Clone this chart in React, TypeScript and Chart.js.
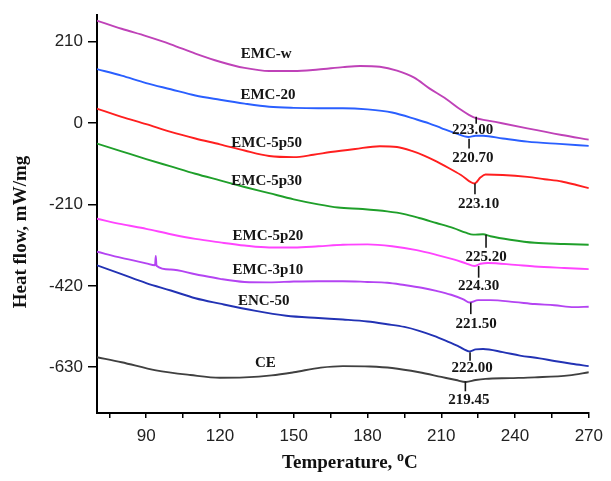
import React, { useEffect, useRef } from "react";
import { Chart, registerables } from "chart.js";

Chart.register(...registerables);

// ---- Data (temperature in °C, heat flow in mW/mg) ----
const seriesNames = ["EMC-w", "EMC-20", "EMC-5p50", "EMC-5p30", "EMC-5p20", "EMC-3p10", "ENC-50", "CE"];

const tempW = [70, 80, 90, 100, 110, 120, 130, 140, 150, 160, 170, 177, 185, 192, 199, 205, 212, 218, 223, 232, 245, 259, 270];
const flowW = [264, 243, 224, 203, 179, 158, 142, 134, 134, 138, 144, 147, 145, 135, 117, 90, 62, 34, 15, 3, -14, -31, -43];

const temp20 = [70, 80, 90, 100, 110, 120, 130, 140, 150, 160, 170, 180, 190, 200, 205, 210, 216, 221, 224, 227, 235, 245, 258, 270];
const flow20 = [139, 122, 103, 87, 71, 60, 50, 42, 39, 38, 38, 35, 27, 9, -1, -13, -27, -36, -33, -33, -40, -48, -54, -59];

const temp5p50 = [70, 80, 90, 100, 110, 120, 130, 140, 150, 158, 165, 175, 185, 192, 198, 203, 208, 213, 218, 223.5, 226, 228, 235, 245, 252, 259, 265, 270];
const flow5p50 = [37, 16, -3, -23, -40, -55, -71, -85, -88, -82, -75, -67, -60, -62, -72, -84, -99, -116, -134, -156, -140, -133, -134, -139, -145, -151, -160, -168];

const temp5p30 = [70, 80, 90, 100, 110, 120, 130, 140, 150, 160, 168, 178, 188, 195, 201, 208, 215, 220, 223, 227, 230, 238, 248, 260, 270];
const flow5p30 = [-53, -73, -93, -112, -131, -148, -165, -181, -197, -210, -218, -222, -228, -235, -245, -258, -271, -283, -288, -287, -292, -301, -309, -312, -314];

const temp5p20 = [70, 80, 90, 100, 110, 120, 130, 140, 150, 160, 170, 180, 190, 200, 208, 215, 220, 223.5, 226, 229, 240, 248, 260, 270];
const flow5p20 = [-247, -261, -273, -287, -299, -308, -316, -321, -321, -318, -314, -313, -318, -328, -340, -352, -362, -369, -363, -361, -366, -370, -374, -377];

const temp3p10 = [70, 80, 90, 93.6, 93.9, 94.2, 100, 110, 120, 130, 140, 150, 160, 170, 180, 188, 195, 202, 208, 214, 219, 221.5, 225, 230, 240, 248, 256, 264, 270];
const flow3p10 = [-332, -348, -362, -367, -343, -368, -378, -390, -402, -410, -411, -409, -408, -408, -410, -412, -418, -425, -433, -443, -455, -463, -457, -457, -462, -467, -470, -475, -474];

const tempE50 = [70, 80, 90, 100, 110, 120, 134, 147, 160, 170, 180, 188, 195, 201, 207, 212, 217, 221.5, 224, 227, 235, 242, 250, 256, 263, 270];
const flowE50 = [-367, -390, -413, -432, -452, -466, -484, -497, -503, -507, -512, -519, -526, -536, -549, -562, -576, -589, -584, -583, -591, -600, -607, -614, -621, -627];

const tempCE = [70, 80, 94, 108, 120, 130, 141, 150, 161, 170, 181, 190, 201, 210, 216, 220, 224, 228, 238, 248, 262, 270];
const flowCE = [-604, -617, -638, -650, -657, -656, -651, -643, -631, -627, -628, -632, -643, -655, -663, -668, -663, -660, -658, -656, -651, -643];

const seriesTemps = [tempW, temp20, temp5p50, temp5p30, temp5p20, temp3p10, tempE50, tempCE];
const seriesFlows = [flowW, flow20, flow5p50, flow5p30, flow5p20, flow3p10, flowE50, flowCE];

// axis ticks
const xTickValues = [75, 90, 105, 120, 135, 150, 165, 180, 195, 210, 225, 240, 255, 270];
const xLabelledTicks = [90, 120, 150, 180, 210, 240, 270];
const yTickValues = [-630, -420, -210, 0, 210];

// curve label anchors (temperature, heat flow)
const labelTemps = [138.8, 139.5, 139, 139, 139.5, 139.5, 137.8, 138.5];
const labelFlows = [177, 72, -52, -150, -293, -380, -459, -620];

// peak annotations
const peakLabels = ["223.00", "220.70", "223.10", "225.20", "224.30", "221.50", "222.00", "219.45"];
const peakTickTemps = [224.2, 221.3, 223.7, 228.2, 225.2, 222.0, 221.7, 219.8];
const peakTickTops = [15.8, -40.5, -156, -288, -369, -463, -591.5, -666];
const peakTickBottoms = [-2.2, -66, -184, -322, -399, -493, -613, -692];
const peakTextTemps = [222.8, 222.9, 225.2, 228.2, 225.2, 224.2, 222.5, 221.2];
const peakTextFlows = [-17.6, -89.4, -208.7, -345.5, -421, -518, -631, -715];

// styles
const seriesColors = ["#bf42b8", "#2a5fff", "#ff1f1f", "#1f9f2a", "#ff44ff", "#b444f2", "#2232b4", "#404040"];

const SERIF = '"Liberation Serif", "Times New Roman", serif';
const SANS = '"Liberation Sans", Arial, sans-serif';

const decorPlugin = {
  id: "decor",
  afterDatasetsDraw(chart: any) {
    const { ctx, scales } = chart;
    const xs = scales.x;
    const ys = scales.y;
    ctx.save();
    ctx.fillStyle = "#151515";
    ctx.textAlign = "center";
    ctx.textBaseline = "middle";
    ctx.font = `bold 15px ${SERIF}`;
    seriesNames.forEach((name, i) => {
      ctx.fillText(name, xs.getPixelForValue(labelTemps[i]), ys.getPixelForValue(labelFlows[i]));
    });
    ctx.strokeStyle = "#151515";
    ctx.lineWidth = 1.6;
    peakLabels.forEach((lab, i) => {
      const px = xs.getPixelForValue(peakTickTemps[i]);
      ctx.beginPath();
      ctx.moveTo(px, ys.getPixelForValue(peakTickTops[i]));
      ctx.lineTo(px, ys.getPixelForValue(peakTickBottoms[i]));
      ctx.stroke();
      ctx.fillText(lab, xs.getPixelForValue(peakTextTemps[i]), ys.getPixelForValue(peakTextFlows[i]));
    });
    ctx.restore();
  },
  afterDraw(chart: any) {
    const { ctx } = chart;
    ctx.save();
    ctx.fillStyle = "#111";
    // x-axis title with superscript
    const main = "Temperature, ";
    const sup = "o";
    const tail = "C";
    ctx.font = `bold 19px ${SERIF}`;
    const wMain = ctx.measureText(main).width;
    const wTail = ctx.measureText(tail).width;
    ctx.font = `bold 14px ${SERIF}`;
    const wSup = ctx.measureText(sup).width;
    const total = wMain + wSup + wTail;
    const cx = (chart.chartArea.left + chart.chartArea.right) / 2 + 7;
    const x0 = cx - total / 2;
    const base = 468;
    ctx.textAlign = "left";
    ctx.textBaseline = "alphabetic";
    ctx.font = `bold 19px ${SERIF}`;
    ctx.fillText(main, x0, base);
    ctx.font = `bold 14px ${SERIF}`;
    ctx.fillText(sup, x0 + wMain, base - 7);
    ctx.font = `bold 19px ${SERIF}`;
    ctx.fillText(tail, x0 + wMain + wSup, base);
    // y-axis title
    ctx.translate(26, 232);
    ctx.rotate(-Math.PI / 2);
    ctx.textAlign = "center";
    ctx.font = `bold 19px ${SERIF}`;
    ctx.fillText("Heat flow, mW/mg", 0, 0);
    ctx.restore();
  },
};

export default function App() {
  const canvasRef = useRef<HTMLCanvasElement | null>(null);

  useEffect(() => {
    const canvas = canvasRef.current;
    if (!canvas) return;
    const datasets = seriesNames.map((name, i) => ({
      label: name,
      data: seriesTemps[i].map((t, j) => ({ x: t, y: seriesFlows[i][j] })),
      borderColor: seriesColors[i],
      backgroundColor: seriesColors[i],
      borderWidth: 1.9,
      pointRadius: 0,
      fill: false,
      cubicInterpolationMode: "monotone" as const,
    }));

    const chart = new Chart(canvas, {
      type: "line",
      data: { datasets },
      options: {
        animation: false,
        responsive: false,
        devicePixelRatio: 1,
        layout: { padding: { top: 13, right: 17, bottom: 0, left: 0 } },
        plugins: {
          legend: { display: false },
          title: { display: false },
          tooltip: { enabled: false },
        },
        scales: {
          x: {
            type: "linear",
            min: 70,
            max: 270,
            afterBuildTicks: (s: any) => {
              s.ticks = xTickValues.map((v) => ({ value: v }));
            },
            afterFit: (s: any) => {
              s.height = 68;
            },
            ticks: {
              autoSkip: false,
              maxRotation: 0,
              padding: 8,
              color: "#222",
              font: { family: SANS, size: 17 },
              callback: (v: any) => (xLabelledTicks.includes(Number(v)) ? String(v) : ""),
            },
            grid: {
              display: true,
              drawOnChartArea: false,
              drawTicks: true,
              tickLength: 5,
              color: "#000",
              lineWidth: 1.5,
            },
            border: { display: true, color: "#000", width: 2 },
          },
          y: {
            type: "linear",
            min: -748,
            max: 278,
            afterBuildTicks: (s: any) => {
              s.ticks = yTickValues.map((v) => ({ value: v }));
            },
            afterFit: (s: any) => {
              s.width = 97;
            },
            ticks: {
              autoSkip: false,
              padding: 5,
              color: "#222",
              font: { family: SANS, size: 17 },
              callback: (v: any) => String(v),
            },
            grid: {
              display: true,
              drawOnChartArea: false,
              drawTicks: true,
              tickLength: 9,
              color: "#000",
              lineWidth: 1.5,
            },
            border: { display: true, color: "#000", width: 2 },
          },
        },
      },
      plugins: [decorPlugin],
    });
    return () => chart.destroy();
  }, []);

  return (
    <div style={{ position: "fixed", left: 0, top: 0, width: 611, height: 481, background: "#fff" }}>
      <canvas ref={canvasRef} width={611} height={481} style={{ width: 611, height: 481, display: "block" }} />
    </div>
  );
}
